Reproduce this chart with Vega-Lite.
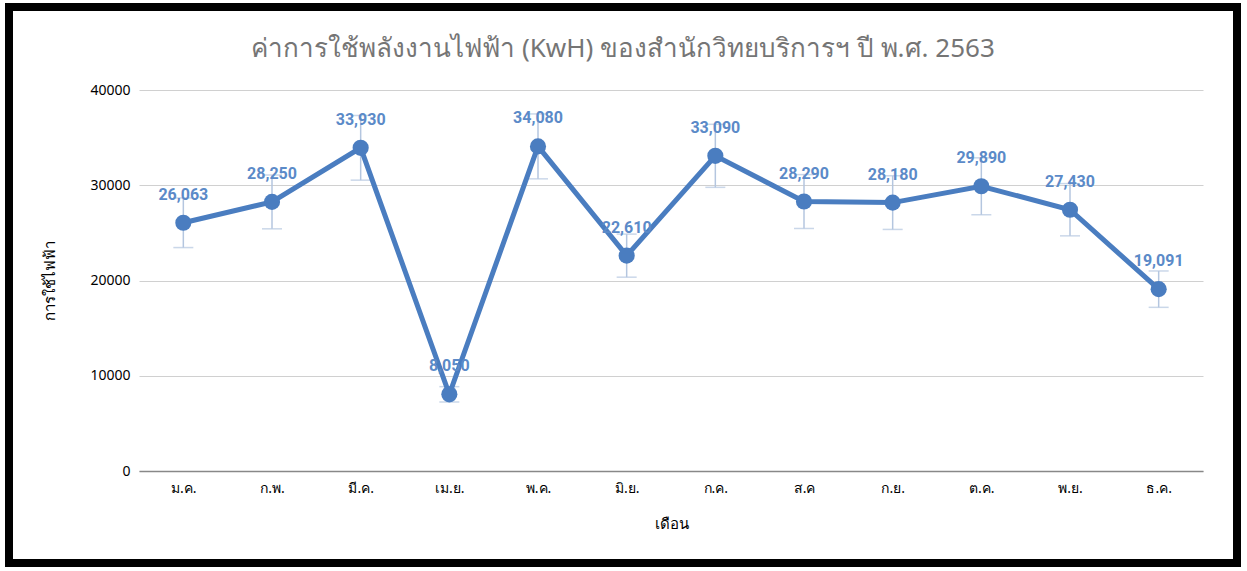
{
  "$schema": "https://vega.github.io/schema/vega-lite/v6.json",
  "autosize": "none",
  "width": 1228,
  "height": 556,
  "padding": {"left": 9, "top": 7, "right": 10, "bottom": 8},
  "background": "white",
  "title": {
    "text": "ค่าการใช้พลังงานไฟฟ้า (KwH) ของสำนักวิทยบริการฯ ปี พ.ศ. 2563",
    "offset": -55,
    "fontSize": 26,
    "font": "Noto Sans",
    "fontWeight": "normal",
    "color": "#757575",
    "anchor": "middle"
  },
  "config": {
    "view": {"stroke": "#000000", "strokeWidth": 8, "fill": "white"},
    "font": "Noto Sans"
  },
  "data": {
    "values": [
      {"month": "ม.ค.", "kwh": 26063, "lo": 23457, "hi": 28669, "label": "26,063"},
      {"month": "ก.พ.", "kwh": 28250, "lo": 25425, "hi": 31075, "label": "28,250"},
      {"month": "มี.ค.", "kwh": 33930, "lo": 30537, "hi": 37323, "label": "33,930"},
      {"month": "เม.ย.", "kwh": 8050, "lo": 7245, "hi": 8855, "label": "8,050"},
      {"month": "พ.ค.", "kwh": 34080, "lo": 30672, "hi": 37488, "label": "34,080"},
      {"month": "มิ.ย.", "kwh": 22610, "lo": 20349, "hi": 24871, "label": "22,610"},
      {"month": "ก.ค.", "kwh": 33090, "lo": 29781, "hi": 36399, "label": "33,090"},
      {"month": "ส.ค", "kwh": 28290, "lo": 25461, "hi": 31119, "label": "28,290"},
      {"month": "ก.ย.", "kwh": 28180, "lo": 25362, "hi": 30998, "label": "28,180"},
      {"month": "ต.ค.", "kwh": 29890, "lo": 26901, "hi": 32879, "label": "29,890"},
      {"month": "พ.ย.", "kwh": 27430, "lo": 24687, "hi": 30173, "label": "27,430"},
      {"month": "ธ.ค.", "kwh": 19091, "lo": 17182, "hi": 21000, "label": "19,091"}
    ]
  },
  "encoding": {
    "x": {
      "field": "month",
      "type": "ordinal",
      "sort": null,
      "scale": {"type": "point", "range": [130, 1194], "padding": 0.5},
      "axis": {
        "title": "เดือน",
        "titleFontSize": 15,
        "titleFontWeight": "normal",
        "titleColor": "#000000",
        "titlePadding": 21,
        "labelAngle": 0,
        "labelFontSize": 14,
        "labelColor": "#000000",
        "labelPadding": 10,
        "ticks": false,
        "domainColor": "#888888",
        "domainWidth": 1.5,
        "grid": false,
        "offset": -92
      }
    }
  },
  "layer": [
    {
      "mark": {"type": "errorbar", "ticks": {"size": 20}, "color": "#b4c6df", "thickness": 1.5},
      "encoding": {
        "y": {"field": "lo", "type": "quantitative", "scale": {"domain": [0, 40000], "range": [464, 83], "nice": false}, "title": "การใช้ไฟฟ้า"},
        "y2": {"field": "hi"}
      }
    },
    {
      "mark": {"type": "line", "color": "#4a7dc0", "strokeWidth": 5},
      "encoding": {
        "y": {
          "field": "kwh",
          "type": "quantitative",
          "scale": {"domain": [0, 40000], "range": [464, 83], "nice": false},
          "axis": {
            "values": [0, 10000, 20000, 30000, 40000],
            "format": "d",
            "title": "การใช้ไฟฟ้า",
            "titleFontSize": 15,
            "titleFontWeight": "normal",
            "titleColor": "#000000",
            "titlePadding": 32,
            "labelFontSize": 14,
            "labelColor": "#000000",
            "labelPadding": 9,
            "ticks": false,
            "domain": false,
            "gridColor": "#d0d0d0",
            "gridWidth": 1,
            "offset": -130
          }
        }
      }
    },
    {
      "mark": {"type": "point", "filled": true, "size": 260, "color": "#4a7dc0", "opacity": 1},
      "encoding": {"y": {"field": "kwh", "type": "quantitative"}}
    },
    {
      "mark": {"type": "text", "dy": -28, "fontSize": 16, "fontWeight": "bold", "font": "Roboto", "color": "#5b8ac8"},
      "encoding": {
        "y": {"field": "kwh", "type": "quantitative"},
        "text": {"field": "label"}
      }
    }
  ]
}
